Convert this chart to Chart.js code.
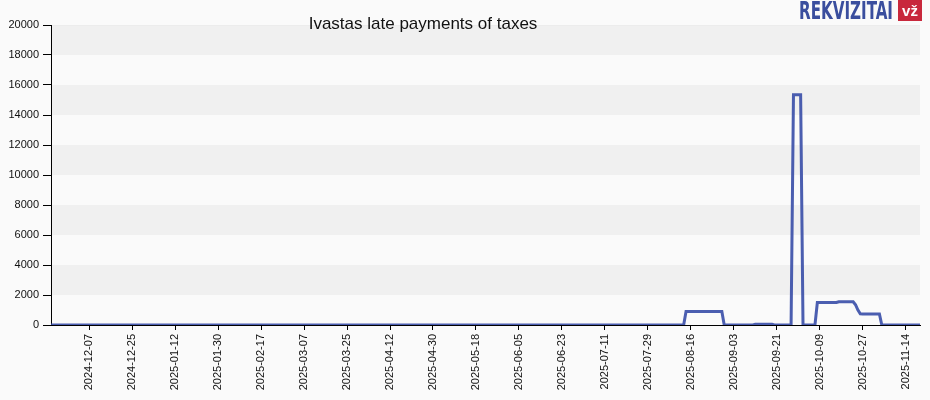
<!DOCTYPE html>
<html>
<head>
<meta charset="utf-8">
<script src="https://cdn.jsdelivr.net/npm/chart.js@4/dist/chart.umd.min.js"></script>
<style>
html,body{margin:0;padding:0;background:#fafafa;}
#wrap{width:930px;height:400px;position:relative;}
</style>
</head>
<body>
<div id="wrap"><canvas id="c" width="930" height="400"></canvas></div>
<script>
// ---- data ----
const chartTitle = "Ivastas late payments of taxes";
const startDate = "2024-11-21";   // first day shown
const dayCount = 365;
const tickDates = ["2024-12-07","2024-12-25","2025-01-12","2025-01-30","2025-02-17","2025-03-07",
  "2025-03-25","2025-04-12","2025-04-30","2025-05-18","2025-06-05","2025-06-23","2025-07-11",
  "2025-07-29","2025-08-16","2025-09-03","2025-09-21","2025-10-09","2025-10-27","2025-11-14"];
const yTicks = [0,2000,4000,6000,8000,10000,12000,14000,16000,18000,20000];
// daily amounts (one per day from startDate)
const lateAmounts = [
  0,0,0,0,0,0,0,0,0,0,0,0,0,0,0,0,0,0,0,0,0,0,0,0,0,0,0,0,0,0,
  0,0,0,0,0,0,0,0,0,0,0,0,0,0,0,0,0,0,0,0,0,0,0,0,0,0,0,0,0,0,
  0,0,0,0,0,0,0,0,0,0,0,0,0,0,0,0,0,0,0,0,0,0,0,0,0,0,0,0,0,0,
  0,0,0,0,0,0,0,0,0,0,0,0,0,0,0,0,0,0,0,0,0,0,0,0,0,0,0,0,0,0,
  0,0,0,0,0,0,0,0,0,0,0,0,0,0,0,0,0,0,0,0,0,0,0,0,0,0,0,0,0,0,
  0,0,0,0,0,0,0,0,0,0,0,0,0,0,0,0,0,0,0,0,0,0,0,0,0,0,0,0,0,0,
  0,0,0,0,0,0,0,0,0,0,0,0,0,0,0,0,0,0,0,0,0,0,0,0,0,0,0,0,0,0,
  0,0,0,0,0,0,0,0,0,0,0,0,0,0,0,0,0,0,0,0,0,0,0,0,0,0,0,0,0,0,
  0,0,0,0,0,0,0,0,0,0,0,0,0,0,0,0,0,0,0,0,0,0,0,0,0,0,
  900,900,900,900,900,900,900,900,900,900,900,900,900,900,900,900,
  0,0,0,0,0,0,0,0,0,0,0,0,0,
  50,50,50,50,50,50,50,50,
  0,0,0,0,0,0,0,0,
  15350,15350,15350,15350,
  0,0,0,0,0,0,
  1500,1500,1500,1500,1500,1500,1500,1500,1500,
  1550,1550,1550,1550,1550,1550,1550,
  1350,1000,750,
  730,730,730,730,730,730,730,730,
  0,0,0,0,0,0,0,0,0,0,0,0,0,0,0,0,0
];

// ---- build ----
const dates = [];
{
  const d0 = new Date(startDate + "T00:00:00Z");
  for (let i = 0; i < dayCount; i++) {
    const d = new Date(d0.getTime() + i * 86400000);
    dates.push(d.toISOString().slice(0, 10));
  }
}
const points = lateAmounts.map((v, i) => ({x: i, y: v}));
const tickIdx = tickDates.map(t => dates.indexOf(t));

const bandPlugin = {
  id: 'bands',
  beforeDraw(chart) {
    const {ctx, chartArea: a, scales: {y}} = chart;
    ctx.save();
    ctx.fillStyle = '#fafafa';
    ctx.fillRect(0, 0, chart.width, chart.height);
    for (let i = 0; i < yTicks.length - 1; i++) {
      const top = y.getPixelForValue(yTicks[i + 1]);
      const bot = y.getPixelForValue(yTicks[i]);
      ctx.fillStyle = (i % 2 === 1) ? '#f0f0f0' : '#fafafa';
      ctx.fillRect(a.left, top, a.right - a.left, bot - top);
    }
    ctx.strokeStyle = '#ececec';
    ctx.lineWidth = 1;
    ctx.beginPath();
    ctx.moveTo(a.left, a.top + 0.5);
    ctx.lineTo(a.right, a.top + 0.5);
    ctx.stroke();
    ctx.restore();
  },
  afterDraw(chart) {
    const ctx = chart.ctx;
    ctx.save();
    ctx.fillStyle = '#111';
    ctx.font = '17px "Liberation Sans", Arial, sans-serif';
    ctx.textAlign = 'center';
    ctx.textBaseline = 'middle';
    ctx.fillText(chartTitle, 423, 24);
    // logo
    ctx.fillStyle = '#3a4e9e';
    ctx.font = 'bold 25px "Liberation Sans Narrow", "DejaVu Sans Condensed", sans-serif';
    ctx.textAlign = 'left';
    ctx.textBaseline = 'alphabetic';
    ctx.fillText('REKVIZITAI', 799, 19, 94);
    ctx.fillStyle = '#c8283c';
    ctx.fillRect(898, 0, 24, 21);
    ctx.fillStyle = '#ffffff';
    ctx.font = 'bold 15px "Liberation Sans", Arial, sans-serif';
    ctx.textAlign = 'center';
    ctx.fillText('vž', 910, 16);
    ctx.restore();
  }
};

new Chart(document.getElementById('c'), {
  type: 'line',
  data: {
    datasets: [{
      data: points,
      borderColor: 'rgba(50,72,165,0.88)',
      borderWidth: 3,
      pointRadius: 0,
      tension: 0,
      fill: false
    }]
  },
  options: {
    responsive: false,
    animation: false,
    layout: {padding: {top: 25, right: 10, left: 0, bottom: 0}},
    plugins: {legend: {display: false}, tooltip: {enabled: false}, title: {display: false}},
    scales: {
      x: {
        type: 'linear',
        min: 0,
        max: dayCount - 1,
        afterBuildTicks(scale) { scale.ticks = tickIdx.map(v => ({value: v})); },
        afterFit(scale) { scale.height = 75; },
        ticks: {
          autoSkip: false,
          maxRotation: 90,
          minRotation: 90,
          padding: 4,
          color: '#111',
          font: {family: '"Liberation Sans", Arial, sans-serif', size: 11},
          callback: (v) => dates[v]
        },
        grid: {display: true, drawOnChartArea: false, tickLength: 5, color: '#000'},
        border: {display: true, color: '#000', width: 1}
      },
      y: {
        min: 0,
        max: 20000,
        afterBuildTicks(scale) { scale.ticks = yTicks.map(v => ({value: v})); },
        afterFit(scale) { scale.width = 51; },
        ticks: {
          padding: 4,
          color: '#111',
          font: {family: '"Liberation Sans", Arial, sans-serif', size: 11},
          callback: (v) => String(v)
        },
        grid: {display: true, drawOnChartArea: false, tickLength: 8, color: '#000'},
        border: {display: true, color: '#000', width: 1}
      }
    }
  },
  plugins: [bandPlugin]
});
</script>
</body>
</html>
